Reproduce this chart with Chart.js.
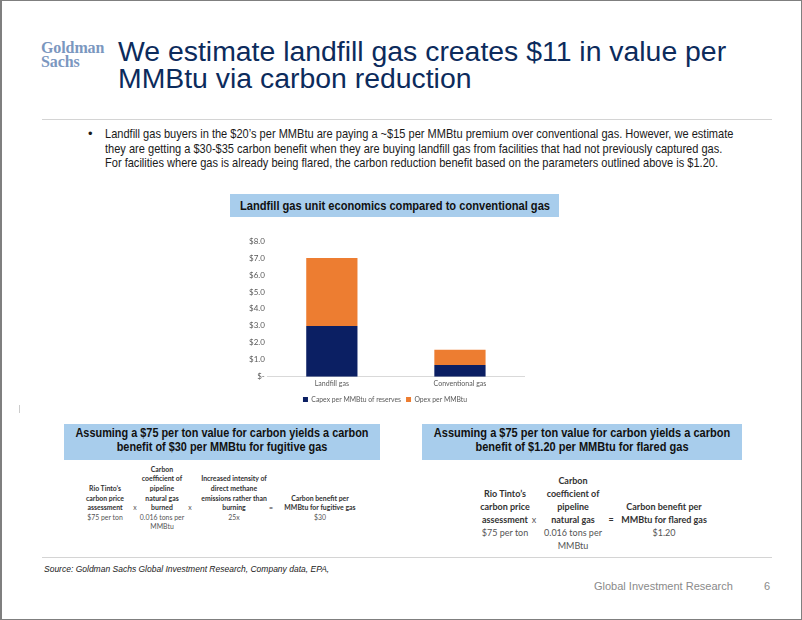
<!DOCTYPE html>
<html>
<head>
<meta charset="utf-8">
<script src="https://cdn.jsdelivr.net/npm/chart.js@4.4.1/dist/chart.umd.min.js"></script>
<style>
  body { margin: 0; background: #fff; }
  #slide { position: relative; width: 802px; height: 620px; box-sizing: border-box;
           border: 1px solid #7f7f7f; border-left-width: 2px; overflow: hidden;
           font-family: "Liberation Sans", Arial, sans-serif; color: #1a1a1a; }
  .abs { position: absolute; }
  #logo { left: 39px; top: 40px; font-family: "Liberation Serif", serif; font-weight: bold;
          font-size: 16px; line-height: 14px; color: #7b97bf; letter-spacing: -0.1px; }
  #title { left: 116px; top: 37px; font-size: 28.4px; line-height: 27px; color: #0c2b5c; white-space: nowrap; }
  .rule { height: 1px; background: #d4d4d4; }
  #bullet { left: 86px; top: 126px; font-size: 13px; line-height: 14.5px; color: #1a1a1a; }
  #bullet .dot { position: absolute; left: 0; top: 0; }
  .nl { white-space: nowrap; transform-origin: left center; }
  .hbox { background: #a8cdec; font-weight: bold; color: #111; }
  .ctr { position: absolute; left: 50%; white-space: nowrap; text-align: center; transform-origin: center center; }
  #chartHead { left: 228px; top: 193px; width: 329px; height: 23px; font-size: 13px; line-height: 23px; }
  #chartWrap { left: 244px; top: 230px; width: 282px; height: 182px; }
  .fbox { top: 423px; height: 36px; font-size: 12.6px; line-height: 14px; }
  .col { position: absolute; text-align: center; white-space: nowrap; font-family: Lato, "Open Sans", sans-serif; color: #555; }
  .col b { color: #333; }
  #source { left: 42px; top: 563px; font-size: 8.5px; font-style: italic; color: #222; }
  #footer { left: 592px; top: 579px; font-size: 11px; color: #8a8a8a; }
  #page { left: 762px; top: 579px; font-size: 11px; color: #8a8a8a; }
</style>
</head>
<body>
<div id="slide">
  <div id="logo" class="abs">Goldman<br>Sachs</div>
  <div id="title" class="abs">We estimate landfill gas creates $11 in value per<br>MMBtu via carbon reduction</div>
  <div class="abs rule" style="left:40px; top:118px; width:730px;"></div>
  <div id="bullet" class="abs"><span class="dot">•</span>
    <div style="margin-left:17px;">
      <div class="nl" style="transform:scaleX(0.85)">Landfill gas buyers in the $20’s per MMBtu are paying a ~$15 per MMBtu premium over conventional gas. However, we estimate</div>
      <div class="nl" style="transform:scaleX(0.85)">they are getting a $30-$35 carbon benefit when they are buying landfill gas from facilities that had not previously captured gas.</div>
      <div class="nl" style="transform:scaleX(0.85)">For facilities where gas is already being flared, the carbon reduction benefit based on the parameters outlined above is $1.20.</div>
    </div>
  </div>
  <div id="chartHead" class="abs hbox"><div class="ctr" style="transform:translateX(-50%) scaleX(0.855)">Landfill gas unit economics compared to conventional gas</div></div>
  <div id="chartWrap" class="abs"><canvas id="mychart"></canvas></div>
  <div class="abs" style="left:17px; top:404px; width:1px; height:8px; background:#ccc;"></div>
  <div class="abs hbox fbox" style="left:62px; width:316px;"><div class="ctr" style="top:2px; transform:translateX(-50%) scaleX(0.865)">Assuming a $75 per ton value for carbon yields a carbon<br>benefit of $30 per MMBtu for fugitive gas</div></div>
  <div class="abs hbox fbox" style="left:420px; width:320px;"><div class="ctr" style="top:2px; transform:translateX(-50%) scaleX(0.875)">Assuming a $75 per ton value for carbon yields a carbon<br>benefit of $1.20 per MMBtu for flared gas</div></div>
  <div id="formulas"></div>
  <div class="abs rule" style="left:40px; top:556px; width:730px;"></div>
  <div id="source" class="abs">Source: Goldman Sachs Global Investment Research, Company data, EPA,</div>
  <div id="footer" class="abs">Global Investment Research</div>
  <div id="page" class="abs">6</div>
</div>
<script>
// chart data
var categories = ['Landfill gas', 'Conventional gas'];
var capex = [3.0, 0.7];
var opex = [4.0, 0.9];
var seriesNames = ['Capex per MMBtu of reserves', 'Opex per MMBtu'];
var yTicks = [0, 1, 2, 3, 4, 5, 6, 7, 8];

// formula blocks: [centerX, firstRow, boldLines, plainLines]
function formula(rowY, rowH, size, cols) {
  var holder = document.getElementById('formulas');
  cols.forEach(function (c) {
    var d = document.createElement('div');
    d.className = 'col';
    var lines = c[2].map(function (t) { return '<b>' + t + '</b>'; }).concat(c[3]);
    d.innerHTML = lines.join('<br>');
    d.style.fontSize = size + 'px';
    d.style.lineHeight = rowH + 'px';
    d.style.width = '100px';
    d.style.left = (c[0] - 50) + 'px';
    d.style.top = (rowY + c[1] * rowH - rowH / 2) + 'px';
    holder.appendChild(d);
  });
}
formula(507, 9.6, 6.9, [
  [103, -2, ["Rio Tinto’s", 'carbon price', 'assessment'], ['$75 per ton']],
  [133, 0, [], ['x']],
  [160, -4, ['Carbon', 'coefficient of', 'pipeline', 'natural gas', 'burned'], ['0.016 tons per', 'MMBtu']],
  [188, 0, [], ['x']],
  [232, -3, ['Increased intensity of', 'direct methane', 'emissions rather than', 'burning'], ['25x']],
  [269, 0, ['='], []],
  [318, -1, ['Carbon benefit per', 'MMBtu for fugitive gas'], ['$30']]
]);
formula(518, 13, 9, [
  [503, -2, ["Rio Tinto’s", 'carbon price', 'assessment'], ['$75 per ton']],
  [532, 0, [], ['x']],
  [571, -3, ['Carbon', 'coefficient of', 'pipeline', 'natural gas'], ['0.016 tons per', 'MMBtu']],
  [609, 0, ['='], []],
  [662, -1, ['Carbon benefit per', 'MMBtu for flared gas'], ['$1.20']]
]);

var ctx = document.getElementById('mychart');
var myChart = new Chart(ctx, {
  type: 'bar',
  data: {
    labels: categories,
    datasets: [{
      label: seriesNames[0],
      data: capex,
      backgroundColor: '#0b1f63'
    }, {
      label: seriesNames[1],
      data: opex,
      backgroundColor: '#ed7d31'
    }]
  },
  options: {
    responsive: true,
    maintainAspectRatio: false,
    animation: false,
    layout: { padding: { top: 10, right: 4 } },
    datasets: { bar: { categoryPercentage: 1, barPercentage: 0.4 } },
    plugins: {
      legend: {
        position: 'bottom',
        labels: { boxWidth: 5, boxHeight: 5, padding: 5, color: '#595959', font: { family: 'Lato', size: 6.8 } }
      },
      tooltip: { enabled: false }
    },
    scales: {
      x: {
        stacked: true,
        grid: { display: false, drawTicks: false },
        border: { color: '#d9d9d9' },
        ticks: { color: '#595959', padding: 3, font: { family: 'Lato', size: 7 } }
      },
      y: {
        stacked: true,
        min: 0,
        max: 8,
        afterBuildTicks: function (axis) { axis.ticks = yTicks.map(function (v) { return { value: v }; }); },
        grid: { display: false, drawTicks: false },
        border: { display: false },
        ticks: {
          color: '#595959', padding: 3, font: { family: 'Lato', size: 8 },
          callback: function (v) { return v === 0 ? '$-' : '$' + v.toFixed(1); }
        }
      }
    }
  }
});
</script>
</body>
</html>
